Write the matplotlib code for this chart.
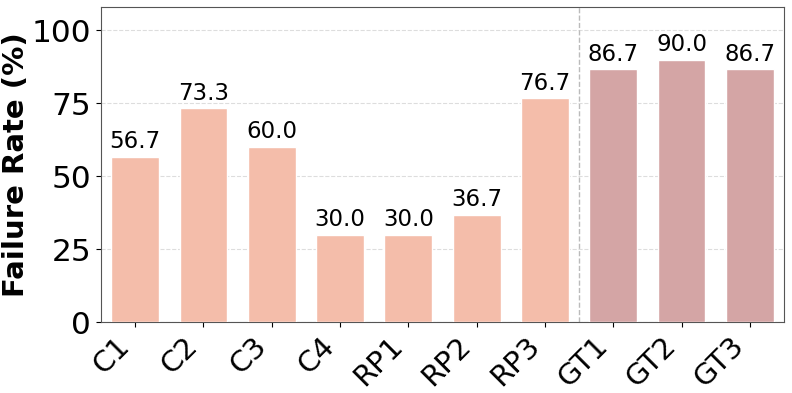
import matplotlib
matplotlib.use("Agg")
import matplotlib.pyplot as plt

categories = ["C1", "C2", "C3", "C4", "RP1", "RP2", "RP3", "GT1", "GT2", "GT3"]
values = [56.7, 73.3, 60.0, 30.0, 30.0, 36.7, 76.7, 86.7, 90.0, 86.7]
groups = ["A"] * 7 + ["B"] * 3
group_colors = {"A": "#F4BDAA", "B": "#D4A5A5"}

fig = plt.figure(figsize=(7.92, 3.93), dpi=100)
ax = fig.add_axes([101/792, 1 - 322/393, 683/792, 315/393])

x = list(range(len(categories)))
colors = [group_colors[g] for g in groups]
bars = ax.bar(x, values, width=0.7, color=colors, edgecolor="white", linewidth=1, zorder=3)

for xi, v in zip(x, values):
    ax.text(xi, v + 1.2, f"{v:.1f}", ha="center", va="bottom", fontsize=16.5, zorder=4)

ax.axvline(6.5, color="#BBBBBB", linestyle="--", linewidth=1, zorder=2)

ax.set_xlim(-0.5, 9.5)
ax.set_ylim(0, 108)
ax.set_yticks([0, 25, 50, 75, 100])
ax.tick_params(axis="y", labelsize=22.5)
ax.set_xticks(x)
ax.set_xticklabels(categories, rotation=45, ha="right", fontsize=21)
ax.set_ylabel("Failure Rate (%)", fontsize=21, fontweight="bold", labelpad=1)
ax.yaxis.grid(True, linestyle="--", color="#DDDDDD", linewidth=0.8, zorder=0)
ax.set_axisbelow(True)
for s in ax.spines.values():
    s.set_color("#555555")

fig.savefig("out.png", dpi=100)
